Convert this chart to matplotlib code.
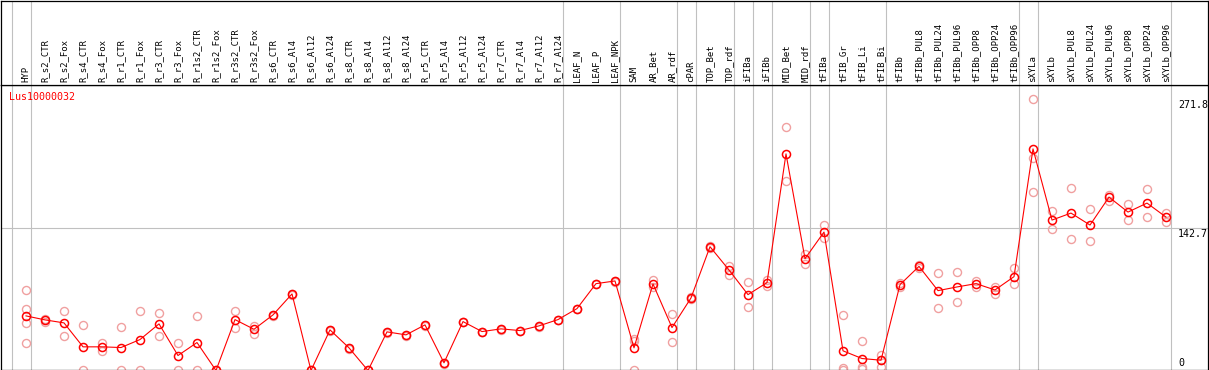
import numpy as np
import matplotlib
matplotlib.use("Agg")
import matplotlib.pyplot as plt

samples = ["HYP", "R_s2_CTR", "R_s2_Fox", "R_s4_CTR", "R_s4_Fox", "R_r1_CTR", "R_r1_Fox",
           "R_r3_CTR", "R_r3_Fox", "R_r1s2_CTR", "R_r1s2_Fox", "R_r3s2_CTR", "R_r3s2_Fox",
           "R_s6_CTR", "R_s6_Al4", "R_s6_Al12", "R_s6_Al24", "R_s8_CTR", "R_s8_Al4", "R_s8_Al12",
           "R_s8_Al24", "R_r5_CTR", "R_r5_Al4", "R_r5_Al12", "R_r5_Al24", "R_r7_CTR", "R_r7_Al4",
           "R_r7_Al12", "R_r7_Al24", "LEAF_N", "LEAF_P", "LEAF_NPK", "SAM", "AR_Bet", "AR_rdf",
           "cPAR", "TOP_Bet", "TOP_rdf", "iFIBa", "iFIBb", "MID_Bet", "MID_rdf", "tFIBa",
           "tFIB_Gr", "tFIB_Li", "tFIB_Bi", "tFIBb", "tFIBb_PUL8", "tFIBb_PUL24", "tFIBb_PUL96",
           "tFIBb_OPP8", "tFIBb_OPP24", "tFIBb_OPP96", "sXYLa", "sXYLb", "sXYLb_PUL8",
           "sXYLb_PUL24", "sXYLb_PUL96", "sXYLb_OPP8", "sXYLb_OPP24", "sXYLb_OPP96"]

means = [54.7, 50.7, 47.7, 23.7, 23.7, 23, 31, 46.7, 15, 28, 0, 51, 41.3, 55.7, 76.7, 0,
         40.7, 22.7, 0, 38.7, 35.7, 45.7, 7.7, 49, 39, 41.7, 40, 44.7, 51, 62, 87, 89.7,
         22.7, 86.7, 43, 72.7, 124, 100.7, 76, 88, 217, 112, 138.7, 19.7, 12, 10.3, 86,
         104.3, 80, 83.7, 87, 80.7, 94, 222, 150.7, 157.7, 145.7, 173.7, 158.7, 167.7, 153.7]

reps = [[81, 62, 48, 28], [52, 49], [60, 35], [46, 0], [28, 20], [44, 0], [60, 0],
        [58, 35], [28, 0], [55, 0], [0, 0], [60, 43], [45, 37], [56, 55], [77, 76],
        [0, 0], [41, 40], [23, 22], [0, 0], [39, 38], [36, 35], [46, 45], [8, 7],
        [49, 49], [39, 39], [42, 41], [40, 40], [45, 44], [51, 51], [62, 62], [87, 87],
        [90, 89], [32, 30, 1], [91, 84], [57, 29], [74, 72], [125, 123], [105, 96],
        [89, 64], [91, 85], [244, 190], [117, 107], [146, 133], [56, 3, 0], [30, 4, 2],
        [16, 11, 4], [88, 84], [106, 103], [98, 63], [99, 69], [90, 84], [84, 77],
        [103, 87], [271.8, 213, 179], [160, 142], [183, 132], [162, 130], [176, 170],
        [167, 151], [182, 154], [158, 149]]

# last sample of each group (plus the one before the first)
group_ends = [-1, 0, 28, 31, 34, 35, 37, 38, 39, 41, 42, 45, 52, 53, 60]

gene = "Lus10000032"
ymarks = [0, 142.7, 271.8]

W, H = 1209, 370
fig = plt.figure(figsize=(W / 100, H / 100), dpi=100)
ax = fig.add_axes([1 / W, 0.5 / H, 1207 / W, 284.5 / H])
hd = fig.add_axes([1 / W, 285 / H, 1207 / W, 84.5 / H])

x = np.arange(len(samples))
xmin, xmax = (1 - 26) / 19, (1208 - 26) / 19
grey = "#c0c0c0"
mono = "DejaVu Sans Mono"

for a in (ax, hd):
    a.set_xlim(xmin, xmax)
    a.set_xticks([])
    a.set_yticks([])
    for s in a.spines.values():
        s.set_linewidth(0.9)
        s.set_color("black")
    for g in group_ends:
        a.axvline(g + 0.24, color=grey, lw=0.8, zorder=0)

hd.set_ylim(0, 1)
for i, name in enumerate(samples):
    hd.text(i, 0.035, name, rotation=90, ha="center", va="bottom",
            fontsize=6.5, family=mono)

ax.set_ylim(1, 286)
ax.axhline(142.7, color=grey, lw=0.8, zorder=0)

for i, r in enumerate(reps):
    ax.plot([i] * len(r), r, "o", ms=5.8, mfc="none", mec="#f0a0a0", mew=1.0, zorder=2)
ax.plot(x, means, "-", color="red", lw=0.8, zorder=3)
ax.plot(x, means, "o", ms=5.8, mfc="none", mec="red", mew=1.1, zorder=4)

ax.text((9 - 26) / 19, 274, gene, color="red", fontsize=7.2, family=mono, va="center")
for v in ymarks:
    lbl = "0" if v == 0 else str(v)
    if v == 0:
        ax.text(60.63, 3, lbl, fontsize=7.2, family=mono, ha="left", va="bottom")
    else:
        ax.text(60.63, v - 1, lbl, fontsize=7.2, family=mono, ha="left", va="top")

plt.savefig("out.png", dpi=100)
